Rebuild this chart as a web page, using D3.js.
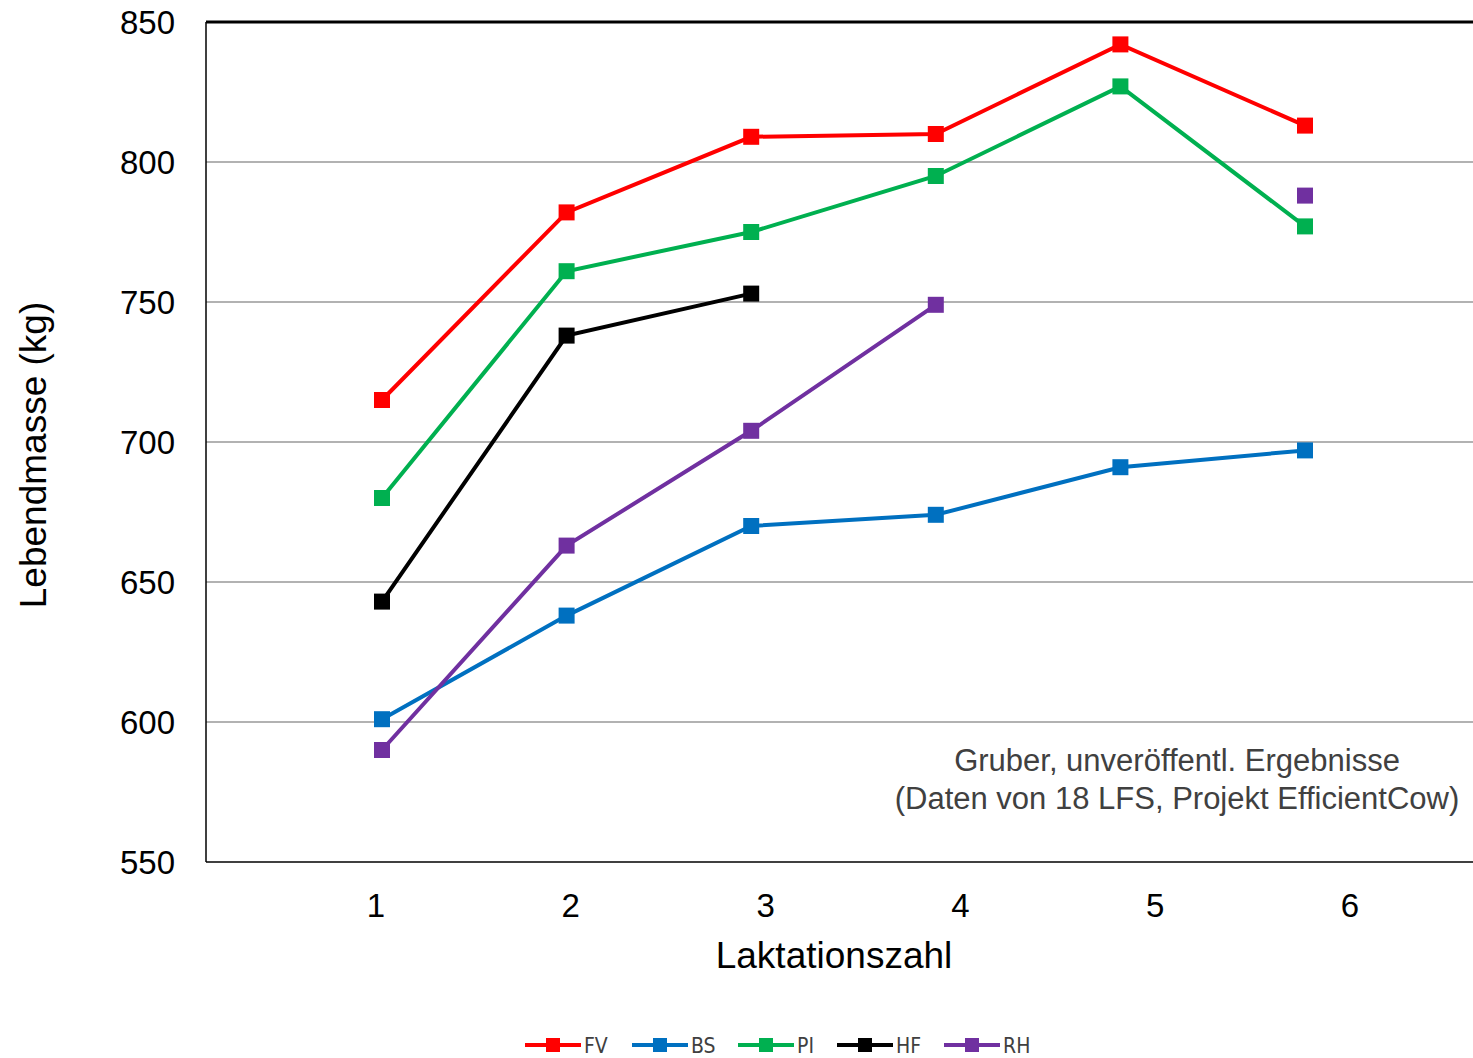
<!DOCTYPE html>
<html><head><meta charset="utf-8">
<script src="https://cdn.jsdelivr.net/npm/d3@7"></script>
<style>body{margin:0;background:#fff}svg{font-family:"Liberation Sans",Arial,sans-serif}</style>
</head><body><div id="chart"></div>
<script>
var laktationen = [1, 2, 3, 4, 5, 6]
var yTicks = [550, 600, 650, 700, 750, 800, 850]
var seriesNames = ['FV', 'BS', 'PI', 'HF', 'RH']
var seriesColors = ['#ff0000', '#0070c0', '#00b050', '#000000', '#7030a0']
var fv = [715, 782, 809, 810, 842, 813]
var bs = [601, 638, 670, 674, 691, 697]
var pi = [680, 761, 775, 795, 827, 777]
var hf = [643, 738, 753, null, null, null]
var rh = [590, 663, 704, 749, null, 788]
var values = [fv, bs, pi, hf, rh]

var svg = d3.select('#chart').append('svg').attr('width', 1473).attr('height', 1058)

var x = d3.scaleLinear().domain([1, 6]).range([382, 1305])
var xLabel = d3.scaleLinear().domain([1, 6]).range([376, 1350])
var y = d3.scaleLinear().domain([550, 850]).range([862, 22])

// grid
svg.append('g').selectAll('line').data(yTicks.slice(1, -1)).enter().append('line')
  .attr('x1', 206).attr('x2', 1473).attr('y1', d => y(d)).attr('y2', d => y(d))
  .attr('stroke', '#999').attr('stroke-width', 1.5)
svg.append('line').attr('x1', 206).attr('x2', 1473).attr('y1', y(850)).attr('y2', y(850))
  .attr('stroke', '#000').attr('stroke-width', 3)
svg.append('line').attr('x1', 206).attr('x2', 1473).attr('y1', y(550)).attr('y2', y(550))
  .attr('stroke', '#000').attr('stroke-width', 1.5)
svg.append('line').attr('x1', 206).attr('x2', 206).attr('y1', y(850)).attr('y2', y(550))
  .attr('stroke', '#000').attr('stroke-width', 1.5)

// y labels
svg.append('g').selectAll('text').data(yTicks).enter().append('text')
  .attr('x', 175).attr('y', d => y(d) + 12).attr('text-anchor', 'end')
  .attr('font-size', 33).text(d => d)
svg.append('g').selectAll('text').data(laktationen).enter().append('text')
  .attr('x', d => xLabel(d)).attr('y', 917).attr('text-anchor', 'middle')
  .attr('font-size', 33).text(d => d)

svg.append('text').attr('transform', 'translate(46,455) rotate(-90)')
  .attr('text-anchor', 'middle').attr('font-size', 37).text('Lebendmasse (kg)')
svg.append('text').attr('x', 834).attr('y', 968).attr('text-anchor', 'middle')
  .attr('font-size', 37).text('Laktationszahl')

svg.append('text').attr('x', 1177).attr('y', 771).attr('text-anchor', 'middle')
  .attr('font-size', 31).attr('fill', '#404040').text('Gruber, unveröffentl. Ergebnisse')
svg.append('text').attr('x', 1177).attr('y', 809).attr('text-anchor', 'middle')
  .attr('font-size', 31).attr('fill', '#404040').text('(Daten von 18 LFS, Projekt EfficientCow)')

var line = d3.line().defined(d => d != null).x((d, i) => x(laktationen[i])).y(d => y(d))

values.forEach(function (vals, k) {
  var g = svg.append('g')
  g.append('path').datum(vals).attr('d', line).attr('fill', 'none')
    .attr('stroke', seriesColors[k]).attr('stroke-width', 4)
  g.selectAll('rect').data(vals.map((v, i) => ({ v: v, i: i })).filter(d => d.v != null))
    .enter().append('rect')
    .attr('x', d => x(laktationen[d.i]) - 8).attr('y', d => y(d.v) - 8)
    .attr('width', 16).attr('height', 16).attr('fill', seriesColors[k])
})

// legend
var legendX = [525, 632, 738, 837, 944]
var lg = svg.append('g').selectAll('g').data(seriesNames).enter().append('g')
  .attr('transform', (d, i) => 'translate(' + legendX[i] + ',1045)')
lg.append('line').attr('x1', 0).attr('x2', 56).attr('stroke', (d, i) => seriesColors[i]).attr('stroke-width', 4)
lg.append('rect').attr('x', 21).attr('y', -7).attr('width', 14).attr('height', 14).attr('fill', (d, i) => seriesColors[i])
lg.append('text').attr('x', 59).attr('y', 8).attr('font-size', 21).attr('fill', '#404040')
  .attr('font-family', '"Liberation Sans Narrow","DejaVu Sans Condensed",sans-serif').text(d => d)
</script></body></html>
